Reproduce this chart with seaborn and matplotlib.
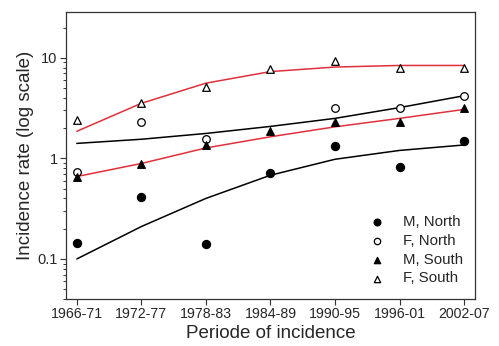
import numpy as np
import pandas as pd
import matplotlib
matplotlib.use("Agg")
import matplotlib.pyplot as plt
import seaborn as sns
from matplotlib.ticker import LogLocator, FixedLocator, NullFormatter

periods = ["1966-71", "1972-77", "1978-83", "1984-89", "1990-95", "1996-01", "2002-07"]

# observed rates
m_north = [0.143, 0.41, 0.14, 0.71, 1.32, 0.83, 1.48]
f_north = [0.74, 2.28, 1.55, np.nan, 3.14, 3.2, 4.2]
m_south = [0.66, 0.87, 1.35, 1.86, 2.28, 2.28, 3.14]
f_south = [2.39, 3.53, 5.1, 7.7, 9.2, 8.0, 8.0]

# fitted curves
fit_m_north = [0.10, 0.21, 0.40, 0.68, 0.98, 1.2, 1.36]
fit_f_north = [1.41, 1.55, 1.77, 2.08, 2.5, 3.2, 4.2]
fit_m_south = [0.66, 0.89, 1.27, 1.64, 2.06, 2.5, 3.07]
fit_f_south = [1.86, 3.53, 5.6, 7.3, 8.1, 8.4, 8.4]

series_names = ["M, North", "F, North", "M, South", "F, South"]

sns.set_theme(style="ticks")
plt.rcParams['font.family'] = ['Liberation Sans', 'DejaVu Sans']

fig = plt.figure(figsize=(4.99, 3.46), dpi=100)
ax = fig.add_axes([0.132, 0.136, 0.820, 0.829])

x = np.arange(len(periods))
obs = dict(zip(series_names, [m_north, f_north, m_south, f_south]))
fits = dict(zip(series_names, [fit_m_north, fit_f_north, fit_m_south, fit_f_south]))
fit_colors = {"M, North": "black", "F, North": "black", "M, South": "#e0303a", "F, South": "#e0303a"}

for name in series_names:
    df = pd.DataFrame({"x": x, "y": fits[name]})
    sns.lineplot(data=df, x="x", y="y", ax=ax, color=fit_colors[name], lw=1.1,
                 legend=False, zorder=2)

styles = {
    "M, North": dict(marker="o", facecolor="black", edgecolor="black", s=34),
    "F, North": dict(marker="o", facecolor="white", edgecolor="black", s=30),
    "M, South": dict(marker="^", facecolor="black", edgecolor="black", s=30),
    "F, South": dict(marker="^", facecolor="white", edgecolor="black", s=30),
}
handles = []
for name in series_names:
    st = styles[name]
    df = pd.DataFrame({"x": x, "y": obs[name]}).dropna()
    sns.scatterplot(data=df, x="x", y="y", ax=ax, marker=st["marker"], s=st["s"],
                    color=st["facecolor"], edgecolor=st["edgecolor"], linewidth=0.9,
                    zorder=3, legend=False)
    h = ax.scatter([], [], marker=st["marker"], s=st["s"] * 0.7, facecolor=st["facecolor"],
                   edgecolor=st["edgecolor"], linewidth=0.9, label=name)
    handles.append(h)

ax.set_yscale("log")
ax.set_ylim(0.04, 28.5)
ax.set_xlim(-0.17, 6.17)
ax.set_xticks(x)
ax.set_xticklabels(periods, fontsize=10.2)
ax.yaxis.set_major_locator(FixedLocator([0.1, 1, 10]))
ax.set_yticklabels(["0.1", "1", "10"], fontsize=10.5)
ax.yaxis.set_minor_locator(LogLocator(base=10, subs=np.arange(2, 10)))
ax.yaxis.set_minor_formatter(NullFormatter())
ax.tick_params(axis="both", which="major", length=4, width=0.8, color="#333333", pad=2)
ax.tick_params(axis="y", which="minor", length=2.5, width=0.7, color="#333333")
for sp in ax.spines.values():
    sp.set_visible(True)
    sp.set_color("#333333")
    sp.set_linewidth(0.9)

ax.set_xlabel("Periode of incidence", fontsize=13.5, labelpad=3)
ax.set_ylabel("Incidence rate (log scale)", fontsize=13.5, labelpad=2)

ax.legend(handles=handles, loc="lower right", frameon=False, fontsize=10.8,
          handletextpad=1.15, labelspacing=0.32, borderaxespad=0.5,
          handlelength=1.2, bbox_to_anchor=(1.005, 0.0))

fig.savefig("out.png", dpi=100)
